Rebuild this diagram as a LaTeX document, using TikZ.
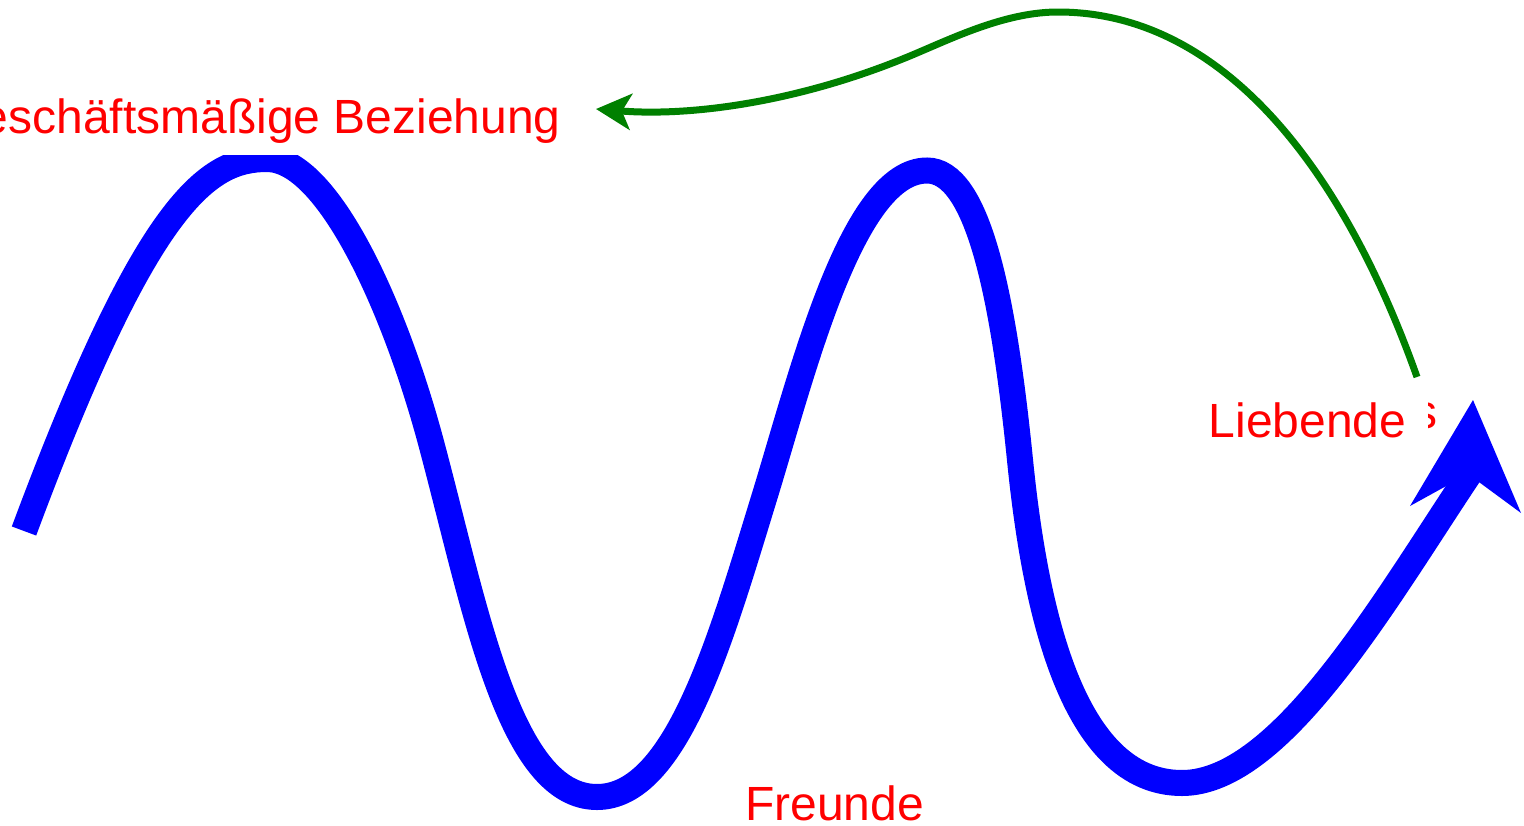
\documentclass[tikz,border=0pt]{standalone}
\usepackage{fontspec}
\setmainfont{Liberation Sans}
\usetikzlibrary{arrows.meta}
\definecolor{dkgreen}{RGB}{0,128,0}
\begin{document}
\begin{tikzpicture}[x=1pt,y=-1pt,
  wave/.style={draw=blue, line width=26pt},
  wavehead/.style={fill=blue, draw=none},
  backarrow/.style={draw=dkgreen, line width=7pt, -{Stealth[length=35pt,width=36pt,inset=9pt]}},
  lbl/.style={text=red, font=\fontsize{48pt}{58pt}\selectfont, inner sep=0pt}]
\useasboundingbox (0,0) rectangle (1524,825);
\clip (0,0) rectangle (1524,825);
% blue wave
\coordinate (w0) at (24,531);
\coordinate (p1) at (267,159);
\coordinate (w2) at (433,450);
\coordinate (t1) at (597,797);
\coordinate (w3) at (765,495);
\coordinate (p2) at (927,170.5);
\coordinate (w4) at (1020,460);
\coordinate (t2) at (1182,783);
\coordinate (wend) at (1472,470);
\draw[wave] (w0) .. controls (146.5,202) and (207,159) .. (p1)
  .. controls +(60,0) and +(-38,-145) .. (w2)
  .. controls +(43.5,164) and +(-87,0) .. (t1)
  .. controls +(80,0) and +(-44,143) .. (w3)
  .. controls +(38,-124) and +(-75,0) .. (p2)
  .. controls +(50,0) and +(-17,-169) .. (w4)
  .. controls +(15,149) and +(-110,0) .. (t2)
  .. controls +(100,0) and +(-84,125) .. (wend);
\coordinate (tip) at (1473,400);
\coordinate (barbR) at (1521,513);
\coordinate (notch) at (1468,474);
\coordinate (barbL) at (1410,506);
\fill[wavehead] (tip) -- (barbR) -- (notch) -- (barbL) -- cycle;
% green arrow
\coordinate (g0) at (1417,377);
\coordinate (gtop) at (1058,12);
\coordinate (gmid) at (917,53);
\coordinate (gtip) at (596,109);
\draw[backarrow] (g0) .. controls (1340,160) and (1218,12) .. (gtop)
  .. controls +(-50,0) and +(41,-17.5) .. (gmid)
  .. controls +(-110,47) and +(100,8) .. (gtip);
% labels
\node[lbl, fill=white, inner ysep=12pt, anchor=base east] (gb) at (561,133) {Geschäftsmäßige Beziehung};
\node[lbl, anchor=base west] (lb) at (1208.5,437) {Liebende};
\node[lbl, anchor=base west] (fr) at (745,820) {Freunde};
\begin{scope}
\clip (1428,395) rectangle (1445,435);
\node[lbl, anchor=base west] (frag) at (1413,428) {s};
\end{scope}
\end{tikzpicture}
\end{document}
